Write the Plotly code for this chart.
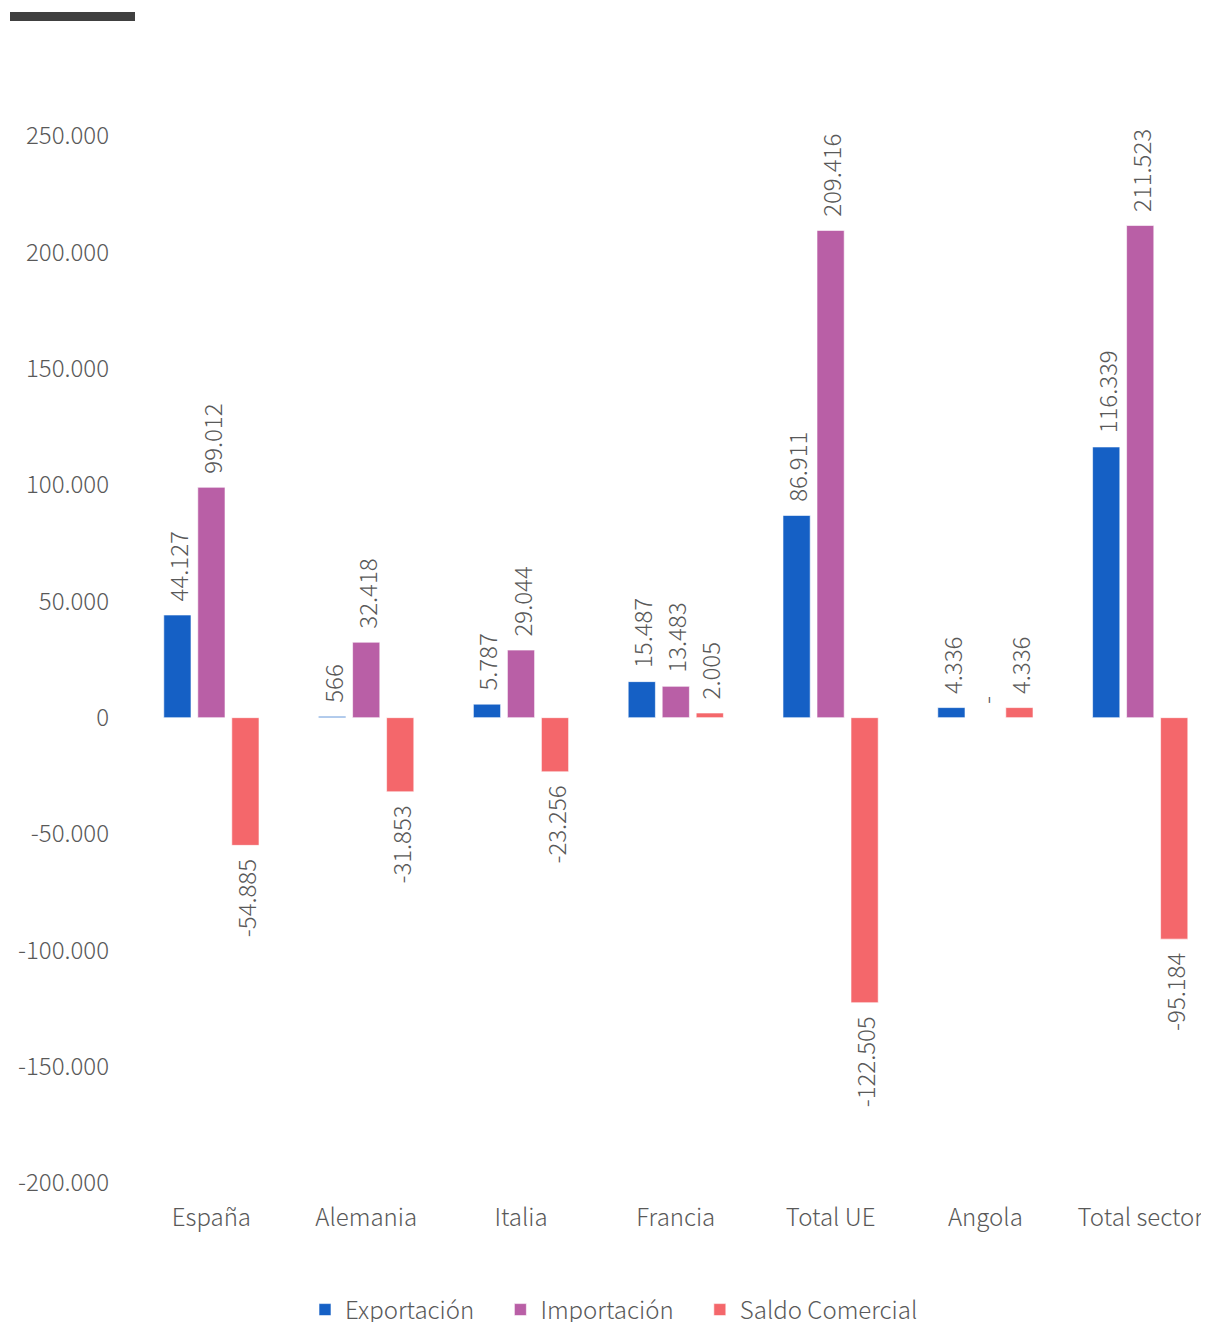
import plotly.graph_objects as go

categories = ["España", "Alemania", "Italia", "Francia", "Total UE", "Angola", "Total sector"]
exportacion = [44127, 566, 5787, 15487, 86911, 4336, 116339]
importacion = [99012, 32418, 29044, 13483, 209416, 0, 211523]
saldo = [-54885, -31853, -23256, 2005, -122505, 4336, -95184]

series_names = ["Exportación", "Importación", "Saldo Comercial"]
colors = ["#1560C5", "#B95FA6", "#F4676B"]

tick_vals = [-200000, -150000, -100000, -50000, 0, 50000, 100000, 150000, 200000, 250000]

OFF = 8  # page body margin
SW, SH = 1209, 1322  # screen size
W, H = SW - OFF, SH - OFF
# screen-pixel geometry of the plot area
S_LEFT, S_TOP, S_BOTTOM = 134, 136, 1183
ML = S_LEFT - OFF
MT = S_TOP - OFF
MB = H - (S_BOTTOM - OFF)
MR = 0
PW, PH = W - ML - MR, H - MT - MB
FONT = "Noto Sans CJK JP"
GREY = "#595959"
FS = 24
NB = "\u00a0\u00a0"
LEG_PAD = "\u00a0" * 4


def fmt(v):
    if v == 0:
        return "-"
    s = f"{abs(v):,}".replace(",", ".")
    return ("-" if v < 0 else "") + s


def label(v):
    t = fmt(v)
    return t + NB if v < 0 else NB + t


def px_x(sx):
    return (sx - OFF - ML) / PW


def px_y(sy):
    return (H - MB - (sy - OFF)) / PH


fig = go.Figure()
for i, (name, vals, col) in enumerate(zip(series_names, [exportacion, importacion, saldo], colors)):
    legend_name = name + (LEG_PAD if i < len(series_names) - 1 else "")
    fig.add_trace(go.Bar(
        x=categories, y=vals, name=legend_name,
        marker=dict(color=col, line=dict(color="white", width=0.6)),
        text=[label(v) for v in vals],
        textposition="outside", textangle=-90,
        constraintext="none", cliponaxis=False,
        textfont=dict(family=FONT, size=FS, color=GREY, weight=300),
        hoverinfo="skip",
    ))

cat_px = 154.8
fig.update_layout(
    width=W, height=H,
    margin=dict(l=ML, r=MR, t=MT, b=MB, pad=0, autoexpand=False),
    paper_bgcolor="white", plot_bgcolor="white",
    barmode="group", bargap=0.341, bargroupgap=0.2,
    font=dict(family=FONT, size=FS, color=GREY, weight=300),
    showlegend=True,
    legend=dict(orientation="h", x=px_x(305), xanchor="left",
                y=px_y(1310), yanchor="middle",
                font=dict(family=FONT, size=FS, color=GREY, weight=300),
                itemclick=False),
    xaxis=dict(range=[-0.5, -0.5 + PW / cat_px], showgrid=False, zeroline=False,
               showline=False, ticks="", ticklabelstandoff=18,
               tickfont=dict(family=FONT, size=FS, color=GREY, weight=300)),
    yaxis=dict(range=[-200000, 250000], showgrid=False, zeroline=False,
               showline=False, tickvals=tick_vals,
               ticktext=[fmt(v) if v != 0 else "0" for v in tick_vals],
               ticks="", ticklabelstandoff=24,
               tickfont=dict(family=FONT, size=FS, color=GREY, weight=300)),
    shapes=[dict(type="rect", xref="paper", yref="paper",
                 x0=px_x(10), x1=px_x(135), y0=px_y(21), y1=px_y(12),
                 fillcolor="#404040", line=dict(width=0))],
)

fig.write_html("out.html")
